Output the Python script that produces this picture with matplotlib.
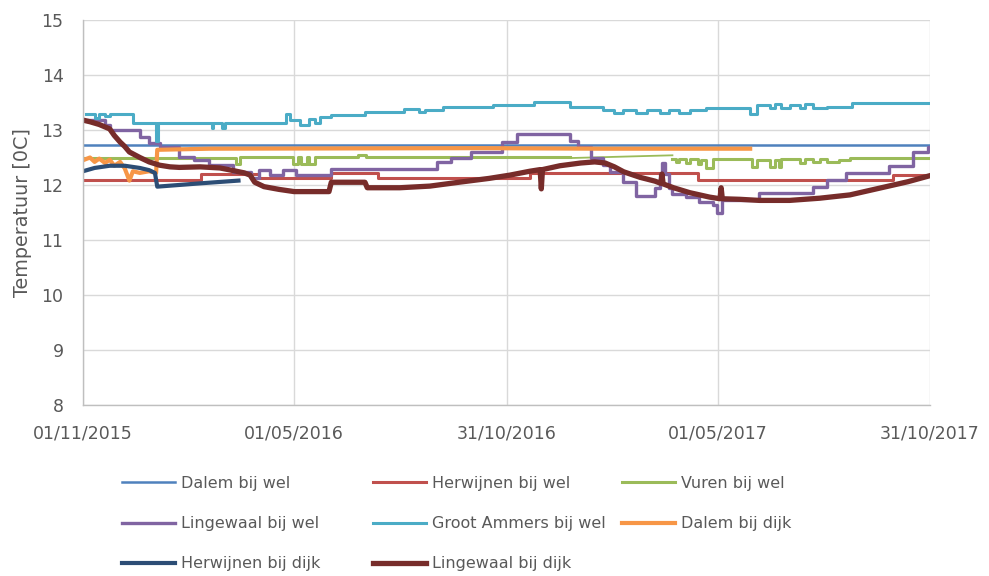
import matplotlib
matplotlib.use("Agg")
import matplotlib.pyplot as plt
import matplotlib.dates as mdates
import pandas as pd

plt.rcParams['font.family'] = ['DejaVu Sans']

# ---------------- data ----------------
x_start = "2015-11-01"
x_end = "2017-10-31"
tick_dates = ["2015-11-01", "2016-05-01", "2016-10-31", "2017-05-01", "2017-10-31"]
y_ticks = [8, 9, 10, 11, 12, 13, 14, 15]

dalem_wel_dates = ["2015-11-01", "2017-10-31"]
dalem_wel_vals = [12.72, 12.72]

herwijnen_wel_dates = ["2015-11-01", "2016-02-11", "2016-04-01", "2016-06-02", "2016-07-12",
                       "2016-11-20", "2017-04-14", "2017-09-29", "2017-10-31"]
herwijnen_wel_vals = [12.10, 12.20, 12.12, 12.22, 12.12, 12.22, 12.10, 12.18, 12.18]

vuren_wel_dates = ["2015-11-01", "2016-03-12", "2016-03-15", "2016-04-30", "2016-05-04",
                   "2016-05-07", "2016-05-12", "2016-05-14", "2016-05-19", "2016-06-25",
                   "2016-07-02", "2016-12-25"]
vuren_wel_vals = [12.50, 12.38, 12.51, 12.38, 12.51, 12.38, 12.51, 12.38, 12.51, 12.55,
                  12.51, 12.51]
vuren_gap_dates = ["2016-12-25", "2017-03-23"]
vuren_gap_vals = [12.49, 12.54]
vuren_wel2_dates = ["2017-03-23", "2017-03-26", "2017-03-29", "2017-04-04", "2017-04-07",
                    "2017-04-14", "2017-04-17", "2017-04-21", "2017-04-27", "2017-05-31",
                    "2017-06-04", "2017-06-15", "2017-06-19", "2017-06-23", "2017-06-25",
                    "2017-07-11", "2017-07-15", "2017-07-22", "2017-07-28", "2017-08-03",
                    "2017-08-14", "2017-08-23", "2017-10-31"]
vuren_wel2_vals = [12.47, 12.42, 12.48, 12.40, 12.47, 12.38, 12.45, 12.31, 12.47, 12.33,
                   12.45, 12.33, 12.45, 12.33, 12.47, 12.40, 12.47, 12.42, 12.47, 12.42,
                   12.45, 12.50, 12.50]

lingewaal_wel_dates = ["2015-11-01", "2015-11-20", "2015-11-24", "2015-12-20", "2015-12-28",
                       "2016-01-06", "2016-01-23", "2016-02-05", "2016-02-18", "2016-03-09",
                       "2016-03-25", "2016-04-01", "2016-04-10", "2016-04-21", "2016-05-03",
                       "2016-06-02", "2016-09-01", "2016-09-13", "2016-09-30", "2016-10-27",
                       "2016-11-09", "2016-12-25", "2017-01-01", "2017-01-12", "2017-01-22",
                       "2017-01-28", "2017-02-08", "2017-02-20", "2017-03-08", "2017-03-12",
                       "2017-03-14", "2017-03-17", "2017-03-20", "2017-03-23", "2017-04-04",
                       "2017-04-15", "2017-04-27", "2017-04-30", "2017-05-05", "2017-06-06",
                       "2017-07-22", "2017-08-03", "2017-08-20", "2017-09-26", "2017-10-16",
                       "2017-10-29", "2017-10-31"]
lingewaal_wel_vals = [13.18, 13.10, 13.00, 12.87, 12.76, 12.69, 12.51, 12.45, 12.36, 12.24,
                      12.13, 12.27, 12.18, 12.27, 12.18, 12.30, 12.42, 12.50, 12.60, 12.78,
                      12.93, 12.80, 12.69, 12.50, 12.36, 12.24, 12.05, 11.80, 11.95, 12.20,
                      12.40, 12.20, 11.95, 11.83, 11.78, 11.69, 11.64, 11.50, 11.73, 11.85,
                      11.97, 12.10, 12.22, 12.35, 12.60, 12.70, 12.70]

groot_ammers_dates = ["2015-11-04", "2015-11-11", "2015-11-15", "2015-11-20", "2015-11-24",
                      "2015-12-14", "2016-01-03", "2016-01-05", "2016-02-20", "2016-02-21",
                      "2016-02-29", "2016-03-02", "2016-04-24", "2016-04-27", "2016-05-06",
                      "2016-05-14", "2016-05-19", "2016-05-23", "2016-06-02", "2016-07-01",
                      "2016-08-04", "2016-08-17", "2016-08-22", "2016-09-06", "2016-10-19",
                      "2016-11-24", "2016-12-25", "2017-01-22", "2017-02-01", "2017-02-08",
                      "2017-02-20", "2017-03-01", "2017-03-12", "2017-03-20", "2017-03-29",
                      "2017-04-07", "2017-04-21", "2017-05-29", "2017-06-04", "2017-06-15",
                      "2017-06-19", "2017-06-25", "2017-07-02", "2017-07-11", "2017-07-15",
                      "2017-07-22", "2017-08-03", "2017-08-25", "2017-10-31"]
groot_ammers_vals = [13.30, 13.22, 13.30, 13.25, 13.30, 13.12, 12.80, 13.12, 13.03, 13.12,
                     13.03, 13.12, 13.30, 13.18, 13.10, 13.20, 13.12, 13.24, 13.27, 13.33,
                     13.38, 13.33, 13.37, 13.42, 13.46, 13.51, 13.42, 13.36, 13.31, 13.36,
                     13.31, 13.36, 13.31, 13.36, 13.31, 13.36, 13.40, 13.30, 13.45, 13.40,
                     13.47, 13.40, 13.46, 13.40, 13.47, 13.40, 13.42, 13.49, 13.49]

dalem_dijk_dates = ["2015-11-01", "2015-11-07", "2015-11-11", "2015-11-15", "2015-11-20",
                    "2015-11-24", "2015-11-28", "2015-12-03", "2015-12-07", "2015-12-11",
                    "2015-12-14", "2015-12-20", "2015-12-28", "2016-01-03", "2016-01-04",
                    "2016-02-18", "2016-10-08", "2017-01-19", "2017-05-29"]
dalem_dijk_vals = [12.45, 12.50, 12.42, 12.48, 12.40, 12.46, 12.35, 12.42, 12.30, 12.08,
                   12.25, 12.22, 12.25, 12.22, 12.64, 12.66, 12.67, 12.66, 12.66]

herwijnen_dijk_dates = ["2015-11-01", "2015-11-11", "2015-11-24", "2015-12-07", "2015-12-20",
                        "2015-12-28", "2016-01-02", "2016-01-04", "2016-02-10", "2016-03-14"]
herwijnen_dijk_vals = [12.25, 12.31, 12.35, 12.35, 12.31, 12.27, 12.22, 11.97, 12.03, 12.08]

lingewaal_dijk_dates = ["2015-11-01", "2015-11-07", "2015-11-15", "2015-11-24", "2015-11-28",
                        "2015-12-03", "2015-12-07", "2015-12-11", "2015-12-20", "2015-12-28",
                        "2016-01-06", "2016-01-15", "2016-01-23", "2016-02-10", "2016-02-27",
                        "2016-03-10", "2016-03-19", "2016-03-24", "2016-03-28", "2016-04-05",
                        "2016-04-18", "2016-05-01", "2016-05-31", "2016-06-02", "2016-07-01",
                        "2016-07-03", "2016-07-31", "2016-08-26", "2016-09-20", "2016-10-16",
                        "2016-11-03", "2016-11-20", "2016-11-29", "2016-11-30", "2016-12-01",
                        "2016-12-16", "2017-01-03", "2017-01-15", "2017-01-24", "2017-02-01",
                        "2017-02-09", "2017-02-23", "2017-03-08", "2017-03-13", "2017-03-14",
                        "2017-03-15", "2017-03-24", "2017-04-07", "2017-04-24", "2017-05-03",
                        "2017-05-04", "2017-05-05", "2017-05-20", "2017-06-06", "2017-07-02",
                        "2017-07-28", "2017-08-23", "2017-09-17", "2017-10-12", "2017-10-31"]
lingewaal_dijk_vals = [13.18, 13.15, 13.10, 13.02, 12.90, 12.78, 12.70, 12.60, 12.50, 12.42,
                       12.36, 12.33, 12.32, 12.33, 12.31, 12.26, 12.22, 12.18, 12.05, 11.97,
                       11.92, 11.88, 11.88, 12.05, 12.05, 11.95, 11.95, 11.98, 12.05, 12.12,
                       12.18, 12.25, 12.28, 11.93, 12.28, 12.35, 12.40, 12.42, 12.40, 12.33,
                       12.24, 12.14, 12.07, 12.03, 12.20, 12.02, 11.95, 11.86, 11.78, 11.75,
                       11.95, 11.75, 11.74, 11.72, 11.72, 11.76, 11.82, 11.94, 12.06, 12.17]

labels = ["Dalem bij wel", "Herwijnen bij wel", "Vuren bij wel", "Lingewaal bij wel",
          "Groot Ammers bij wel", "Dalem bij dijk", "Herwijnen bij dijk", "Lingewaal bij dijk"]
colors = ["#4F81BD", "#C0504D", "#9BBB59", "#8064A2", "#4BACC6", "#F79646", "#2C4D75", "#772C2A"]

# ---------------- figure ----------------
W, H = 989, 576
fig = plt.figure(figsize=(W / 100, H / 100), dpi=100)
ax = fig.add_axes([83 / W, 1 - 405 / H, (930 - 83) / W, (405 - 20) / H])

d = pd.to_datetime
handles = []
h, = ax.plot(d(dalem_wel_dates), dalem_wel_vals, color=colors[0], lw=1.8)
handles.append(h)
h, = ax.plot(d(herwijnen_wel_dates), herwijnen_wel_vals, color=colors[1], lw=2.2,
             drawstyle="steps-post")
handles.append(h)
h, = ax.plot(d(vuren_wel_dates), vuren_wel_vals, color=colors[2], lw=2.2, drawstyle="steps-post")
ax.plot(d(vuren_gap_dates), vuren_gap_vals, color=colors[2], lw=1.3)
ax.plot(d(vuren_wel2_dates), vuren_wel2_vals, color=colors[2], lw=2.2, drawstyle="steps-post")
handles.append(h)
h, = ax.plot(d(lingewaal_wel_dates), lingewaal_wel_vals, color=colors[3], lw=2.4,
             drawstyle="steps-post")
handles.append(h)
h, = ax.plot(d(groot_ammers_dates), groot_ammers_vals, color=colors[4], lw=2.2,
             drawstyle="steps-post")
handles.append(h)
h, = ax.plot(d(dalem_dijk_dates), dalem_dijk_vals, color=colors[5], lw=3.0)
handles.append(h)
h, = ax.plot(d(herwijnen_dijk_dates), herwijnen_dijk_vals, color=colors[6], lw=3.0)
handles.append(h)
h, = ax.plot(d(lingewaal_dijk_dates), lingewaal_dijk_vals, color=colors[7], lw=3.8)
handles.append(h)

ax.set_xlim(d(x_start), d(x_end))
ax.set_ylim(min(y_ticks), max(y_ticks))
ax.set_yticks(y_ticks)
ax.set_xticks(d(tick_dates))
ax.xaxis.set_major_formatter(mdates.DateFormatter("%d/%m/%Y"))

ax.grid(True, color="#D9D9D9", lw=1.0)
ax.set_axisbelow(True)
for s in ["top", "right"]:
    ax.spines[s].set_visible(False)
for s in ["left", "bottom"]:
    ax.spines[s].set_color("#BFBFBF")
    ax.spines[s].set_linewidth(1.0)

ax.tick_params(axis="both", length=0, labelsize=12.5, labelcolor="#595959")
ax.tick_params(axis="y", pad=14)
ax.tick_params(axis="x", pad=14)

ax.set_ylabel("Temperatuur [0C]", fontsize=13.8, color="#595959")
ax.yaxis.label.set_verticalalignment("center")
ax.yaxis.set_label_coords((23 - 83) / 847, 0.5)

# legend in three columns, row-major order like the original
cols = [[0, 3, 6], [1, 4, 7], [2, 5]]
col_x = [122, 373, 622]
for ci, idx in enumerate(cols):
    fig.legend([handles[i] for i in idx], [labels[i] for i in idx],
               loc="upper left", bbox_to_anchor=(col_x[ci] / W, 1 - 476 / H),
               frameon=False, fontsize=11.5, handlelength=3.3, handletextpad=0.4,
               labelspacing=1.58, borderpad=0, borderaxespad=0, labelcolor="#595959")

fig.savefig("out.png", dpi=100)
